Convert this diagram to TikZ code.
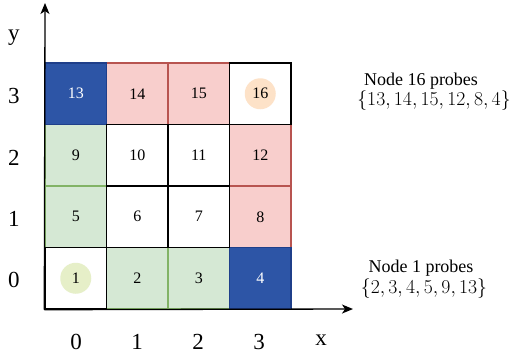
\documentclass[tikz,border=0pt]{standalone}
\usepackage{graphicx}
\usepackage{fontspec}
\setmainfont{Liberation Serif}
\usetikzlibrary{arrows.meta}
\definecolor{bluef}{HTML}{2D55A6}
\definecolor{bluec}{HTML}{1F3F8A}
\definecolor{redf}{HTML}{F8CECC}
\definecolor{redc}{HTML}{B85450}
\definecolor{greenf}{HTML}{D5E8D4}
\definecolor{greenc}{HTML}{82B366}
\definecolor{peach}{HTML}{FDE2C8}
\definecolor{lime}{HTML}{E6EFC8}
\tikzset{
  cell/.style={draw, line width=1.4pt, minimum size=61.5pt, inner sep=0pt, anchor=center, font=\fontsize{16}{18}\selectfont},
  wcell/.style={cell, draw=black, fill=white},
  bcell/.style={cell, draw=bluec, fill=bluef, text=white},
  rcell/.style={cell, draw=redc, fill=redf},
  gcell/.style={cell, draw=greenc, fill=greenf},
  dot/.style={circle, minimum size=31pt, inner sep=0pt},
  axlab/.style={font=\fontsize{23}{26}\selectfont},
  note/.style={font=\fontsize{18}{21}\selectfont},
  axis/.style={line width=1.3pt, -{Stealth[length=11pt,width=9pt,inset=3pt]}}
}
\begin{document}
\begin{tikzpicture}[x=1pt,y=-1pt]
\useasboundingbox (0,0) rectangle (511,360);
% coloured cells
\node[gcell] (c9) at (75.75,155.25) {9};
\node[gcell] (c5) at (75.75,216.75) {5};
\node[gcell] (c2) at (137.25,278.25) {2};
\node[gcell] (c3) at (198.75,278.25) {3};
\node[rcell] (c14) at (137.25,93.75) {14};
\node[rcell] (c15) at (198.75,93.75) {15};
\node[rcell] (c12) at (260.25,155.25) {12};
\node[rcell] (c8) at (260.25,216.75) {8};
\node[bcell] (c13) at (75.75,93.75) {13};
\node[bcell] (c4) at (260.25,278.25) {4};
% white cells
\node[wcell] (c16) at (260.25,93.75) {};
\node[wcell] (c10) at (137.25,155.25) {10};
\node[wcell] (c11) at (198.75,155.25) {11};
\node[wcell] (c6) at (137.25,216.75) {6};
\node[wcell] (c7) at (198.75,216.75) {7};
\node[wcell] (c1) at (75.75,278.25) {};
\node[dot, fill=peach, font=\fontsize{16}{18}\selectfont] (d16) at (c16) {16};
\node[dot, fill=lime, font=\fontsize{16}{18}\selectfont] (d1) at (c1) {1};
% axes
\coordinate (o) at (c1.south west);
\coordinate (ytip) at (45,3);
\coordinate (xtip) at (353,309);
\draw[axis] (o) -- (ytip);
\draw[axis] (o) -- (xtip);
% axis labels
\node[axlab] (ly) at (14,38) {y};
\node[axlab] (r3) at (14,96) {3};
\node[axlab] (r2) at (14,158) {2};
\node[axlab] (r1) at (14,219) {1};
\node[axlab] (r0) at (14,280) {0};
\node[axlab] (k0) at (76,342) {0};
\node[axlab] (k1) at (137,342) {1};
\node[axlab] (k2) at (198,342) {2};
\node[axlab] (k3) at (259,342) {3};
\node[axlab] (lx) at (321,340) {x};
% notes
\node[note] (n16) at (421,81) {Node 16 probes};
\node[note] (s16) at (434,101) {\scalebox{1.14}{$\{13,14,15,12,8,4\}$}};
\node[note] (n1) at (421,268) {Node 1 probes};
\node[note] (s1) at (424,289) {\scalebox{1.14}{$\{2,3,4,5,9,13\}$}};
\end{tikzpicture}
\end{document}
